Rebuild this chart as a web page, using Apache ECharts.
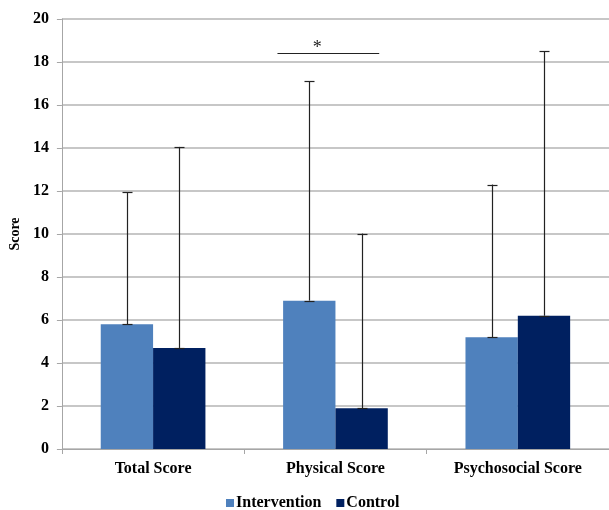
<!DOCTYPE html>
<html><head><meta charset="utf-8">
<script src="https://cdn.jsdelivr.net/npm/echarts@6/dist/echarts.min.js"></script>
<style>html,body{margin:0;padding:0;background:#fff}#c{width:609px;height:510px}</style>
</head><body><div id="c"></div>
<script>
const categories = ['Total Score', 'Physical Score', 'Psychosocial Score'];
const interventionMean = [5.8, 6.9, 5.2];
const controlMean = [4.7, 1.9, 6.2];
const interventionUpper = [11.95, 17.1, 12.3];
const controlUpper = [14.05, 10.02, 18.5];
const yTicks = [0, 2, 4, 6, 8, 10, 12, 14, 16, 18, 20];
const sigCategory = 1;
const sigValue = 18.4;
const sigLabel = '*';

const FONT = '"Liberation Serif", "Times New Roman", serif';
const BAR_FRAC = 0.287;
const chart = echarts.init(document.getElementById('c'));

function errSeries(name, means, uppers, side) {
  return {
    type: 'custom', name: name + ' err', z: 5, silent: true,
    data: categories.map((c, i) => [i, means[i], uppers[i]]),
    renderItem: function (params, api) {
      const band = api.size([1, 0])[0];
      const bw = band * BAR_FRAC;
      const base = api.coord([api.value(0), api.value(1)]);
      const top = api.coord([api.value(0), api.value(2)]);
      const x = Math.round(base[0] + side * bw / 2) + 0.5;
      const cap = 5;
      const style = { stroke: '#222', lineWidth: 1.2, fill: null };
      return { type: 'group', children: [
        { type: 'line', shape: { x1: x, y1: base[1], x2: x, y2: top[1] }, style: style },
        { type: 'line', shape: { x1: x - cap, y1: Math.round(top[1]) + 0.5, x2: x + cap, y2: Math.round(top[1]) + 0.5 }, style: style },
        { type: 'line', shape: { x1: x - cap, y1: Math.round(base[1]) + 0.5, x2: x + cap, y2: Math.round(base[1]) + 0.5 }, style: style }
      ]};
    }
  };
}

chart.setOption({
  animation: false,
  grid: { left: 60, right: -1, top: 19, bottom: 61, containLabel: false },
  legend: {
    data: ['Intervention', 'Control'], top: 490, left: 221, itemGap: 15,
    icon: 'rect', itemWidth: 8, itemHeight: 8,
    textStyle: { fontFamily: FONT, fontWeight: 'bold', fontSize: 16, color: '#000', padding: [0, 0, 0, -3] }
  },
  xAxis: {
    type: 'category', data: categories,
    axisLine: { lineStyle: { color: '#a6a6a6', width: 1 } },
    axisTick: { show: true, length: 5, lineStyle: { color: '#a6a6a6' } },
    axisLabel: { fontFamily: FONT, fontWeight: 'bold', fontSize: 16, color: '#000', margin: 12 }
  },
  yAxis: {
    type: 'value', min: 0, max: 20, interval: 2,
    name: 'Score', nameLocation: 'middle', nameGap: 34, nameRotate: 90,
    nameTextStyle: { fontFamily: FONT, fontWeight: 'bold', fontSize: 14, color: '#000' },
    axisLine: { show: true, lineStyle: { color: '#a6a6a6' } },
    axisTick: { show: true, length: 5, lineStyle: { color: '#a6a6a6' } },
    splitLine: { lineStyle: { color: '#b4b4b4', width: 1.5 } },
    axisLabel: { fontFamily: FONT, fontWeight: 'bold', fontSize: 16, color: '#000', margin: 13,
      formatter: v => yTicks.includes(v) ? String(v) : '' }
  },
  series: [
    { type: 'bar', name: 'Intervention', data: interventionMean, barGap: '0%', barCategoryGap: '42.6%',
      itemStyle: { color: '#4F81BD' } },
    { type: 'bar', name: 'Control', data: controlMean,
      itemStyle: { color: '#002060' } },
    errSeries('Intervention', interventionMean, interventionUpper, -1),
    errSeries('Control', controlMean, controlUpper, 1),
    {
      type: 'custom', name: 'sig', z: 6, silent: true,
      data: [[sigCategory, sigValue]],
      renderItem: function (params, api) {
        const band = api.size([1, 0])[0];
        const p = api.coord([api.value(0), api.value(1)]);
        const y = Math.round(p[1]) + 0.5;
        return { type: 'group', children: [
          { type: 'line', shape: { x1: p[0] - band * 0.318, y1: y, x2: p[0] + band * 0.24, y2: y },
            style: { stroke: '#222', lineWidth: 1.2 } },
          { type: 'text', x: p[0] - band * 0.1, y: y + 4,
            style: { text: sigLabel, fontFamily: FONT, fontSize: 18, fill: '#222', align: 'center', verticalAlign: 'bottom' } }
        ]};
      }
    }
  ]
});
</script></body></html>
